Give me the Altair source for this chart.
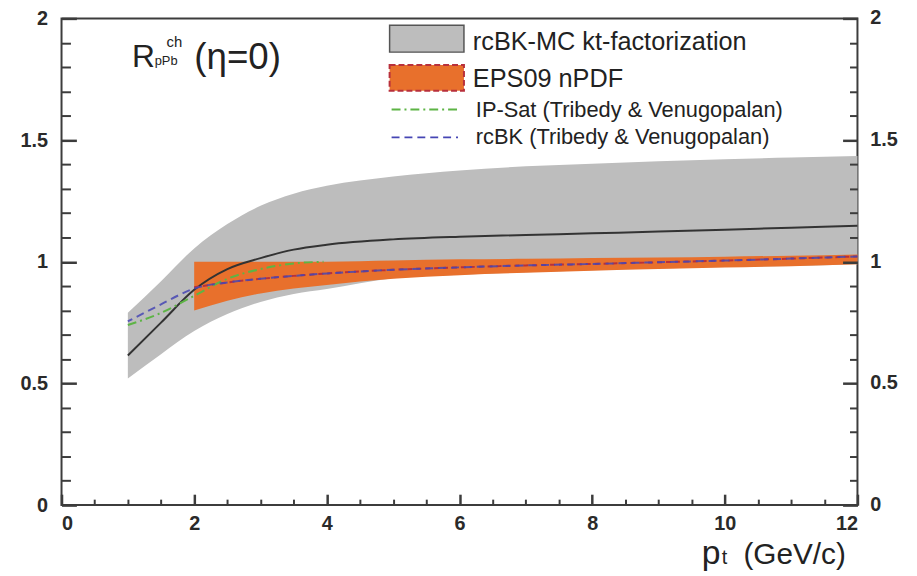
import altair as alt
import pandas as pd

# ---------------- data ----------------
x_mc = [1, 1.5, 2, 2.5, 3, 3.5, 4, 5, 6, 7, 8, 9, 10, 11, 12]
mc_hi = [0.79, 0.92, 1.055, 1.155, 1.23, 1.28, 1.312, 1.35, 1.375, 1.392, 1.403, 1.413, 1.421, 1.428, 1.435]
mc_lo = [0.52, 0.62, 0.715, 0.785, 0.835, 0.868, 0.888, 0.932, 0.947, 0.957, 0.965, 0.972, 0.978, 0.983, 0.99]
mc_mid = [0.615, 0.75, 0.885, 0.97, 1.015, 1.05, 1.07, 1.092, 1.103, 1.11, 1.117, 1.124, 1.132, 1.14, 1.148]

x_eps = [2, 2.5, 3, 3.5, 4, 5, 6, 7, 8, 9, 10, 11, 12]
eps_hi = [1.0, 1.0, 1.0, 1.0, 1.0, 1.005, 1.01, 1.012, 1.015, 1.018, 1.021, 1.025, 1.03]
eps_lo = [0.80, 0.84, 0.87, 0.89, 0.905, 0.93, 0.945, 0.955, 0.963, 0.97, 0.976, 0.982, 0.99]
eps_mid = [0.895, 0.915, 0.93, 0.942, 0.952, 0.967, 0.977, 0.985, 0.991, 0.998, 1.005, 1.013, 1.022]

x_rcbk = [1, 1.5, 2, 2.5, 3, 3.5, 4, 5, 6, 7, 8, 9, 10, 11, 12]
rcbk = [0.755, 0.825, 0.89, 0.915, 0.93, 0.942, 0.952, 0.967, 0.977, 0.985, 0.991, 0.998, 1.005, 1.013, 1.022]

x_ipsat = [1, 1.5, 2, 2.5, 3, 3.5, 3.95]
ipsat = [0.74, 0.79, 0.86, 0.93, 0.97, 0.993, 1.0]

x_major_ticks = [0, 2, 4, 6, 8, 10, 12]
x_minor_ticks = [0.5, 1, 1.5, 2.5, 3, 3.5, 4.5, 5, 5.5, 6.5, 7, 7.5, 8.5, 9, 9.5, 10.5, 11, 11.5]
y_major_ticks = [0, 0.5, 1, 1.5, 2]
y_minor_ticks = [0.1, 0.2, 0.3, 0.4, 0.6, 0.7, 0.8, 0.9, 1.1, 1.2, 1.3, 1.4, 1.6, 1.7, 1.8, 1.9]

legend_labels = ["rcBK-MC kt-factorization", "EPS09 nPDF",
                 "IP-Sat (Tribedy & Venugopalan)", "rcBK (Tribedy & Venugopalan)"]

# ---------------- styling ----------------
W, H = 803, 491
TOP = 8
FONT = "Liberation Sans"
GRAY = "#bdbdbd"
ORANGE = "#e8702c"
BLACK = "#333333"
BLUE = "#4646b4"
GREEN = "#5db445"
RED = "#b8303c"
FRAME = "#3c3c3c"
LBL = dict(labelFontSize=20, labelFont=FONT, labelFontWeight="bold", labelColor="#2a2a2a")

xs = alt.Scale(domain=[0, 12], nice=False, zero=False)
ys = alt.Scale(domain=[0, 2], nice=False, zero=False)

mc = pd.DataFrame({"x": x_mc, "lo": mc_lo, "hi": mc_hi, "mid": mc_mid})
eps = pd.DataFrame({"x": x_eps, "lo": eps_lo, "hi": eps_hi, "mid": eps_mid})
rc = pd.DataFrame({"x": x_rcbk, "y": rcbk})
ip = pd.DataFrame({"x": x_ipsat, "y": ipsat})


# inward ticks: the axis line is pulled into the plot by the tick length,
# so its ticks run back out to the frame
def tick_axis(orient, values, size, width, labels=False, pad=0, fmt=None):
    kw = dict(orient=orient, values=values, ticks=True, tickSize=size, tickWidth=width,
              tickColor=FRAME, offset=-size, domain=False, grid=False, title=None,
              labels=labels, zindex=1)
    if labels:
        kw.update(LBL)
        kw["labelPadding"] = pad
        if fmt:
            kw["format"] = fmt
    return alt.Axis(**kw)


gray_band = alt.Chart(mc).mark_area(color=GRAY, interpolate="monotone").encode(
    x=alt.X("x:Q", scale=xs, axis=tick_axis("bottom", x_major_ticks, 11, 2.5, True, 9, "d")),
    y=alt.Y("lo:Q", scale=ys, axis=tick_axis("left", y_major_ticks, 15, 2.5, True, 14, "~g")),
    y2="hi:Q",
)
orange_band = alt.Chart(eps).mark_area(color=ORANGE, interpolate="monotone").encode(
    x=alt.X("x:Q", scale=xs, axis=tick_axis("bottom", x_minor_ticks, 6, 2)),
    y=alt.Y("lo:Q", scale=ys, axis=tick_axis("left", y_minor_ticks, 9, 2)),
    y2="hi:Q",
)
mc_line = alt.Chart(mc).mark_line(color=BLACK, strokeWidth=2, interpolate="monotone").encode(
    x=alt.X("x:Q", scale=xs, axis=None),
    y=alt.Y("mid:Q", scale=ys, axis=tick_axis("right", y_major_ticks, 15, 2.5)),
)
eps_line = alt.Chart(eps).mark_line(color=RED, strokeWidth=2, strokeDash=[5, 4],
                                    interpolate="monotone").encode(
    x=alt.X("x:Q", scale=xs, axis=None),
    y=alt.Y("mid:Q", scale=ys, axis=tick_axis("right", y_minor_ticks, 8, 2)),
)
ip_line = alt.Chart(ip).mark_line(color=GREEN, strokeWidth=2, strokeDash=[9, 4, 2, 4],
                                  interpolate="monotone").encode(
    x=alt.X("x:Q", scale=xs, axis=None), y=alt.Y("y:Q", scale=ys, axis=None)
)
rc_line = alt.Chart(rc).mark_line(color=BLUE, strokeWidth=2, strokeDash=[8, 5],
                                  strokeDashOffset=3, interpolate="monotone", opacity=0.85).encode(
    x=alt.X("x:Q", scale=xs, axis=None), y=alt.Y("y:Q", scale=ys, axis=None)
)

right_labels = alt.Chart(pd.DataFrame({"v": y_major_ticks})).mark_text(
    font=FONT, fontSize=20, fontWeight="bold", color="#2a2a2a", align="left", baseline="middle"
).encode(y=alt.Y("v:Q", scale=ys, axis=None), x=alt.value(W + 13),
         text=alt.Text("v:Q", format="~g"))


# ---------------- annotations (positions relative to the plot's top-left) ----------------
def txt(s, x, y, size, baseline="alphabetic", color="#222"):
    return alt.Chart(pd.DataFrame({"t": [s]})).mark_text(
        font=FONT, fontSize=size, color=color, align="left", baseline=baseline
    ).encode(x=alt.value(x), y=alt.value(y - 2), text="t:N")


title_marks = [
    txt("R", 71, 51, 32),
    txt("ch", 106, 31, 15),
    txt("pPb", 94, 49, 13),
    txt("(η=0)", 134, 53, 37),
    txt("p", 646, 552, 34),
    txt("t", 666, 552, 20),
    txt("(GeV/c)", 688, 552, 30),
]

legend_marks = [
    alt.Chart(pd.DataFrame({"t": [0]})).mark_rect(fill=GRAY, stroke="#555", strokeWidth=1.5).encode(
        x=alt.value(331), x2=alt.value(406), y=alt.value(7), y2=alt.value(34)),
    txt(legend_labels[0], 415, 26, 25.5, "middle"),
    alt.Chart(pd.DataFrame({"t": [0]})).mark_rect(fill=ORANGE, stroke=RED, strokeWidth=2,
                                                  strokeDash=[6, 3]).encode(
        x=alt.value(331), x2=alt.value(406), y=alt.value(47), y2=alt.value(73)),
    txt(legend_labels[1], 415, 63, 25.5, "middle"),
    alt.Chart(pd.DataFrame({"t": [0]})).mark_rule(color=GREEN, strokeWidth=2,
                                                  strokeDash=[9, 4, 2, 4]).encode(
        x=alt.value(333), x2=alt.value(400), y=alt.value(92)),
    txt(legend_labels[2], 418, 94, 22, "middle"),
    alt.Chart(pd.DataFrame({"t": [0]})).mark_rule(color=BLUE, strokeWidth=2,
                                                  strokeDash=[8, 5]).encode(
        x=alt.value(333), x2=alt.value(400), y=alt.value(120)),
    txt(legend_labels[3], 418, 122, 22, "middle"),
]

chart = alt.layer(
    gray_band, orange_band, mc_line, eps_line, ip_line, rc_line,
    right_labels, *title_marks, *legend_marks
).resolve_axis(x="independent", y="independent").properties(
    width=W, height=H,
    autosize=alt.AutoSizeParams(type="none"),
    padding={"left": 54, "top": TOP, "right": 52, "bottom": 68},
    background="white",
).configure_view(stroke=FRAME, strokeWidth=2)

chart.save("out.html", embed_options={"renderer": "svg", "actions": False})
